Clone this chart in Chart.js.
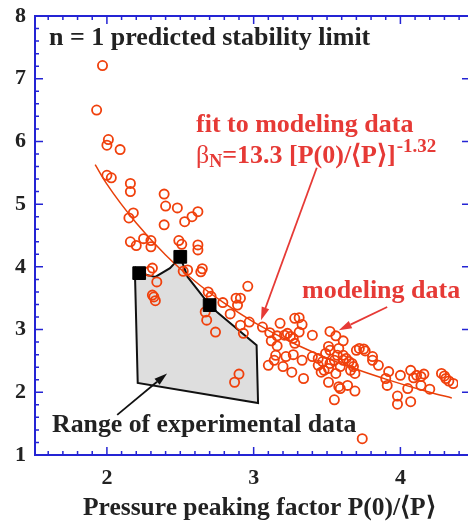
<!DOCTYPE html>
<html>
<head>
<meta charset="utf-8">
<script src="https://cdn.jsdelivr.net/npm/chart.js@4.4.1/dist/chart.umd.min.js"></script>
<style>
  html, body { margin: 0; padding: 0; background: #fff; overflow: hidden; }
  canvas { display: block; }
</style>
</head>
<body>
<canvas id="chart" width="468" height="522"></canvas>
<script>
// modeling data (circles)
const modelX = [1.97, 1.93, 2.01, 2.00, 2.09, 2.00, 2.03, 2.16, 2.16, 2.39, 2.40, 2.48, 2.62, 2.58, 2.53, 2.18, 2.15, 2.39,
  2.16, 2.20, 2.25, 2.30, 2.30, 2.49, 2.51, 2.62, 2.62, 2.31, 2.29, 2.34, 2.52, 2.55, 2.65, 2.64, 2.31, 2.32, 2.33,
  2.96, 2.69, 2.71, 2.79, 2.67, 2.68, 2.74, 2.84, 2.88, 2.91, 2.89, 2.91, 2.93, 2.97, 3.06, 3.11, 3.12, 3.18, 3.16,
  3.21, 3.23, 3.25, 3.27, 3.28, 3.28, 3.31, 3.33, 3.31, 3.40, 3.52, 3.56, 3.61, 3.51, 3.16, 3.15, 3.14, 3.10, 3.22,
  3.20, 3.27, 3.33, 3.26, 3.34, 3.40, 3.44, 3.47, 3.44, 3.48, 3.46, 3.51, 2.90, 2.87, 3.52, 3.49, 3.58, 3.57, 3.61,
  3.63, 3.61, 3.55, 3.52, 3.65, 3.67, 3.68, 3.51, 3.59, 3.66, 3.69, 3.56, 3.70, 3.72, 3.75, 3.76, 3.81, 3.81, 3.85,
  3.58, 3.59, 3.64, 3.69, 3.55, 3.90, 3.92, 3.91, 4.00, 4.05, 3.98, 3.98, 4.07, 4.07, 4.09, 4.11, 4.14, 4.16, 4.14,
  4.20, 4.28, 4.30, 4.31, 4.33, 4.36, 3.74];
const modelY = [7.21, 6.50, 6.03, 5.94, 5.87, 5.46, 5.42, 5.33, 5.20, 5.16, 4.97, 4.94, 4.88, 4.80, 4.72, 4.86, 4.78, 4.67,
  4.40, 4.34, 4.45, 4.42, 4.32, 4.42, 4.36, 4.35, 4.27, 3.98, 3.93, 3.76, 3.93, 3.95, 3.97, 3.92, 3.55, 3.52, 3.46,
  3.69, 3.60, 3.53, 3.43, 3.28, 3.15, 2.96, 3.25, 3.50, 3.50, 3.39, 3.07, 2.94, 3.12, 3.04, 2.95, 2.82, 3.10, 2.90,
  2.91, 2.94, 2.89, 2.86, 2.78, 3.18, 3.19, 3.08, 2.96, 2.91, 2.97, 2.90, 2.82, 2.73, 2.74, 2.59, 2.51, 2.43, 2.57,
  2.41, 2.60, 2.51, 2.32, 2.22, 2.57, 2.54, 2.49, 2.43, 2.35, 2.32, 2.16, 2.29, 2.16, 2.67, 2.62, 2.70, 2.59, 2.59,
  2.54, 2.51, 2.51, 2.46, 2.49, 2.46, 2.41, 2.38, 2.41, 2.35, 2.30, 2.30, 2.67, 2.70, 2.69, 2.66, 2.57, 2.51, 2.43,
  2.09, 2.06, 2.11, 2.02, 1.88, 2.22, 2.33, 2.11, 2.27, 2.06, 1.94, 1.81, 1.85, 2.35, 2.23, 2.27, 2.25, 2.29, 2.11,
  2.05, 2.30, 2.26, 2.22, 2.18, 2.14, 1.26];

// fit curve as traced
const fitX = [1.92, 2.0, 2.2, 2.4, 2.6, 2.8, 3.0, 3.3, 3.6, 3.9, 4.2, 4.35];
const fitY = [5.63, 5.32, 4.70, 4.19, 3.77, 3.42, 3.12, 2.75, 2.45, 2.21, 2.00, 1.91];

// range of experimental data (closed outline)
const rangeX = [2.19, 2.22, 2.33, 2.43, 2.47, 2.50, 2.55, 2.70, 2.75, 3.02, 3.03, 2.21, 2.19];
const rangeY = [4.00, 3.90, 3.84, 3.98, 4.08, 4.16, 3.84, 3.39, 3.28, 2.75, 1.83, 2.15, 4.00];

// black square markers
const markX = [2.22, 2.50, 2.70];
const markY = [3.90, 4.16, 3.39];

const xTicks = [2, 3, 4];
const yTicks = [1, 2, 3, 4, 5, 6, 7, 8];

const BLUE = '#2424d4';
const RED = '#e63a36';
const CIRC = '#f0400c';
const SERIF = '"Liberation Serif", "Times New Roman", serif';
const X_PX_PER_UNIT = 146.75; // horizontal scale of the original plot

const toPts = (xs, ys) => xs.map((x, i) => ({ x: x, y: ys[i] }));

function arrow(ctx, x1, y1, x2, y2, color) {
    const a = Math.atan2(y2 - y1, x2 - x1);
    const hl = 13, hw = 4;
    ctx.strokeStyle = color;
    ctx.fillStyle = color;
    ctx.lineWidth = 1.8;
    ctx.beginPath();
    ctx.moveTo(x1, y1);
    ctx.lineTo(x2 - hl * Math.cos(a), y2 - hl * Math.sin(a));
    ctx.stroke();
    ctx.beginPath();
    ctx.moveTo(x2, y2);
    ctx.lineTo(x2 - hl * Math.cos(a) + hw * Math.sin(a), y2 - hl * Math.sin(a) - hw * Math.cos(a));
    ctx.lineTo(x2 - hl * Math.cos(a) - hw * Math.sin(a), y2 - hl * Math.sin(a) + hw * Math.cos(a));
    ctx.closePath();
    ctx.fill();
}

// frame, inward ticks, labels and arrows
const decor = {
    id: 'decor',
    afterLayout(chart) {
        // keep the x scale at the original px-per-unit whatever width the layout left
        const s = chart.scales.x, a = chart.chartArea;
        s.max = s.min + (a.right - a.left) / X_PX_PER_UNIT;
        s.configure();
    },
    afterDraw(chart) {
        const ctx = chart.ctx;
        const a = chart.chartArea;
        const xs = chart.scales.x, ys = chart.scales.y;
        const W = chart.width;
        ctx.save();

        // blue frame (right edge falls off the canvas) with inward ticks
        ctx.strokeStyle = BLUE;
        ctx.lineWidth = 2;
        ctx.beginPath();
        ctx.moveTo(W, a.top); ctx.lineTo(a.left, a.top);
        ctx.lineTo(a.left, a.bottom); ctx.lineTo(W, a.bottom);
        ctx.stroke();
        ctx.lineWidth = 1.5;
        ctx.beginPath();
        for (let k = 16; k <= 44; k++) {
            const px = xs.getPixelForValue(k / 10);
            const len = k % 10 === 0 ? 8 : 4;
            ctx.moveTo(px, a.bottom); ctx.lineTo(px, a.bottom - len);
            ctx.moveTo(px, a.top); ctx.lineTo(px, a.top + len);
        }
        for (let k = 5; k <= 40; k++) {
            const py = ys.getPixelForValue(k / 5);
            const major = k % 5 === 0;
            ctx.moveTo(a.left, py); ctx.lineTo(a.left + (major ? 8 : 4), py);
            if (major) { ctx.moveTo(W, py); ctx.lineTo(W - 6, py); }
        }
        ctx.stroke();

        // arrows
        arrow(ctx, xs.getPixelForValue(3.43), ys.getPixelForValue(5.58),
            xs.getPixelForValue(3.05), ys.getPixelForValue(3.15), RED);
        arrow(ctx, xs.getPixelForValue(3.91), ys.getPixelForValue(3.36),
            xs.getPixelForValue(3.58), ys.getPixelForValue(2.99), RED);
        arrow(ctx, xs.getPixelForValue(2.07), ys.getPixelForValue(1.64),
            xs.getPixelForValue(2.41), ys.getPixelForValue(2.30), '#111');

        // texts
        ctx.textBaseline = 'alphabetic';
        ctx.textAlign = 'left';
        ctx.fillStyle = '#222';
        ctx.font = 'bold 26px ' + SERIF;
        ctx.fillText('n = 1 predicted stability limit', 49, 45);
        ctx.font = 'bold 25.8px ' + SERIF;
        ctx.fillText('Range of experimental data', 52, 432);
        ctx.font = 'bold 25.5px ' + SERIF;
        ctx.fillText('Pressure peaking factor P(0)/\u27E8P\u27E9', 83, 515);

        ctx.fillStyle = RED;
        ctx.font = 'bold 26px ' + SERIF;
        ctx.fillText('fit to modeling data', 196, 132);
        ctx.fillText('modeling data', 302, 298);

        // beta_N = 13.3 [P(0)/<P>]^-1.32
        let x = 196;
        const base = 163;
        ctx.font = '26px ' + SERIF;
        ctx.fillText('\u03B2', x, base);
        x += ctx.measureText('\u03B2').width;
        ctx.font = 'bold 18px ' + SERIF;
        ctx.fillText('N', x, base + 4);
        x += ctx.measureText('N').width;
        ctx.font = 'bold 26px ' + SERIF;
        const mid = '=13.3 [P(0)/\u27E8P\u27E9]';
        ctx.fillText(mid, x, base);
        x += ctx.measureText(mid).width;
        ctx.font = 'bold 19px ' + SERIF;
        ctx.fillText('-1.32', x + 1, base - 11);

        ctx.restore();
    }
};

new Chart(document.getElementById('chart'), {
    type: 'scatter',
    data: {
        datasets: [
            {
                label: 'markers',
                data: toPts(markX, markY),
                pointStyle: 'rect',
                pointRadius: 9,
                backgroundColor: '#000',
                borderColor: '#000',
                borderWidth: 1
            },
            {
                label: 'modeling data',
                data: toPts(modelX, modelY),
                pointStyle: 'circle',
                pointRadius: 4.6,
                backgroundColor: 'rgba(0,0,0,0)',
                borderColor: CIRC,
                borderWidth: 1.8
            },
            {
                label: 'fit',
                data: toPts(fitX, fitY),
                showLine: true,
                pointRadius: 0,
                borderColor: '#e8400a',
                borderWidth: 1.5,
                cubicInterpolationMode: 'monotone'
            },
            {
                label: 'range',
                data: toPts(rangeX, rangeY),
                showLine: true,
                pointRadius: 0,
                borderColor: '#111',
                borderWidth: 2,
                backgroundColor: '#dedede',
                fill: 'shape'
            }
        ]
    },
    options: {
        responsive: false,
        animation: false,
        devicePixelRatio: 1,
        layout: { padding: { top: 16, right: 0, left: 0, bottom: 0 } },
        plugins: {
            legend: { display: false },
            tooltip: { enabled: false }
        },
        scales: {
            x: {
                type: 'linear',
                min: 1.51,
                max: 4.46,
                afterBuildTicks: (s) => { s.ticks = xTicks.map(v => ({ value: v })); },
                afterFit: (s) => { s.height = 67; s.paddingLeft = 0; s.paddingRight = 0; },
                grid: { display: false, drawTicks: false },
                border: { display: false },
                ticks: {
                    padding: 10,
                    color: '#222',
                    font: { family: SERIF, size: 22, weight: 'bold' }
                }
            },
            y: {
                type: 'linear',
                min: 1,
                max: 8,
                afterBuildTicks: (s) => { s.ticks = yTicks.map(v => ({ value: v })); },
                afterFit: (s) => { s.width = 35; s.paddingTop = 0; s.paddingBottom = 0; },
                grid: { display: false, drawTicks: false },
                border: { display: false },
                ticks: {
                    padding: 9,
                    color: '#222',
                    font: { family: SERIF, size: 22, weight: 'bold' }
                }
            }
        }
    },
    plugins: [decor]
});
</script>
</body>
</html>
